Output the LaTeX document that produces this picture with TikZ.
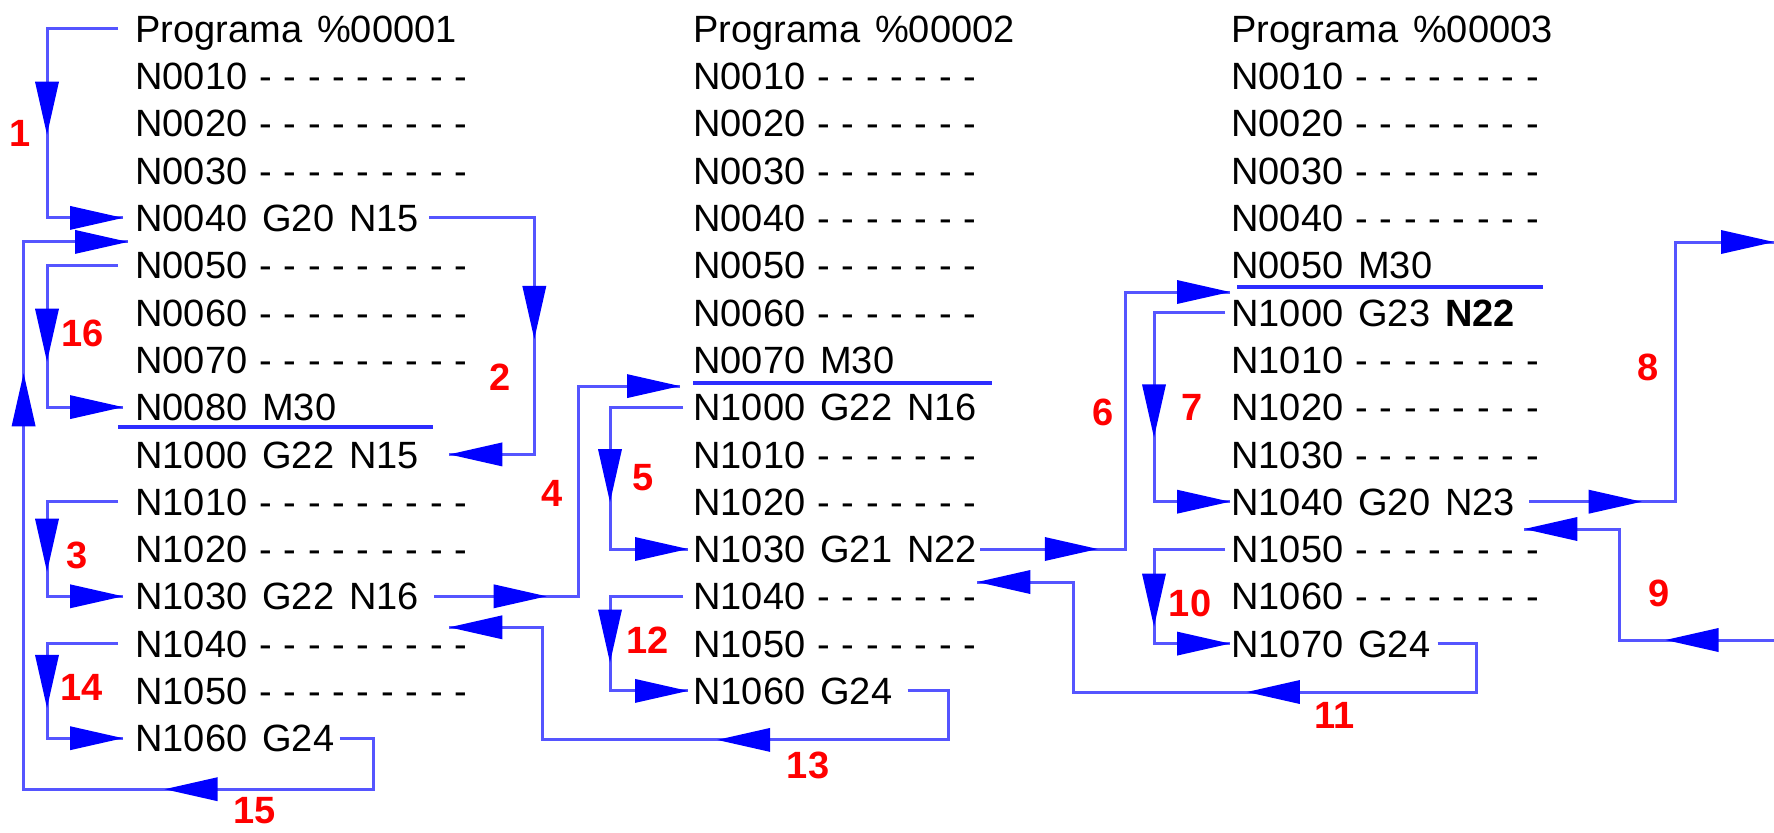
\documentclass[tikz,border=0pt]{standalone}
\usepackage{fontspec}
\setmainfont{Liberation Sans}
\setsansfont{Liberation Sans}
\definecolor{linkblue}{RGB}{85,85,255}
\definecolor{headblue}{RGB}{0,0,255}
\definecolor{ulblue}{RGB}{45,45,255}
\definecolor{lblred}{RGB}{255,0,0}
\tikzset{
  row/.style={anchor=west, inner sep=0pt, text height=13.6pt, text depth=0pt,
    font={\fontsize{19}{23}\selectfont\spaceskip=7.5pt\relax}},
  dashrow/.style={row, font={\fontsize{19}{23}\selectfont\spaceskip=5.9pt\relax}},
  link/.style={draw=linkblue, line width=1.5pt},
  uline/.style={draw=ulblue, line width=2pt},
  lbl/.style={text=lblred, inner sep=0pt, font={\fontsize{19}{23}\selectfont\bfseries}},
  ah/.pic={\fill[headblue] (0,0) -- (-26.5pt,6pt) -- (-26.5pt,-6pt) -- cycle;},
  hd/.style={pos=#1, sloped, allow upside down},
}
\begin{document}
\begin{tikzpicture}[x=0.5pt,y=-0.5pt]
\fill[white] (0,0) rectangle (1774,832);
\useasboundingbox (0,0) rectangle (1774,832);

% ---------- Programa %00001 ----------
\node[row]     (p1r0)  at (135,28.7)  {Programa \%00001};
\node[dashrow] (p1r1)  at (135,76.0)  {N0010 - - - - - - - - -};
\node[dashrow] (p1r2)  at (135,123.3) {N0020 - - - - - - - - -};
\node[dashrow] (p1r3)  at (135,170.6) {N0030 - - - - - - - - -};
\node[row]     (p1r4)  at (135,217.9) {N0040 G20 N15};
\node[dashrow] (p1r5)  at (135,265.2) {N0050 - - - - - - - - -};
\node[dashrow] (p1r6)  at (135,312.5) {N0060 - - - - - - - - -};
\node[dashrow] (p1r7)  at (135,359.8) {N0070 - - - - - - - - -};
\node[row]     (p1r8)  at (135,407.1) {N0080 M30};
\node[row]     (p1r9)  at (135,454.4) {N1000 G22 N15};
\node[dashrow] (p1r10) at (135,501.7) {N1010 - - - - - - - - -};
\node[dashrow] (p1r11) at (135,549.0) {N1020 - - - - - - - - -};
\node[row]     (p1r12) at (135,596.3) {N1030 G22 N16};
\node[dashrow] (p1r13) at (135,643.6) {N1040 - - - - - - - - -};
\node[dashrow] (p1r14) at (135,690.9) {N1050 - - - - - - - - -};
\node[row]     (p1r15) at (135,738.2) {N1060 G24};

% ---------- Programa %00002 ----------
\node[row]     (p2r0)  at (693,28.7)  {Programa \%00002};
\node[dashrow] (p2r1)  at (693,76.0)  {N0010 - - - - - - -};
\node[dashrow] (p2r2)  at (693,123.3) {N0020 - - - - - - -};
\node[dashrow] (p2r3)  at (693,170.6) {N0030 - - - - - - -};
\node[dashrow] (p2r4)  at (693,217.9) {N0040 - - - - - - -};
\node[dashrow] (p2r5)  at (693,265.2) {N0050 - - - - - - -};
\node[dashrow] (p2r6)  at (693,312.5) {N0060 - - - - - - -};
\node[row]     (p2r7)  at (693,359.8) {N0070 M30};
\node[row]     (p2r8)  at (693,407.1) {N1000 G22 N16};
\node[dashrow] (p2r9)  at (693,454.4) {N1010 - - - - - - -};
\node[dashrow] (p2r10) at (693,501.7) {N1020 - - - - - - -};
\node[row]     (p2r11) at (693,549.0) {N1030 G21 N22};
\node[dashrow] (p2r12) at (693,596.3) {N1040 - - - - - - -};
\node[dashrow] (p2r13) at (693,643.6) {N1050 - - - - - - -};
\node[row]     (p2r14) at (693,690.9) {N1060 G24};

% ---------- Programa %00003 ----------
\node[row]     (p3r0)  at (1231,28.7)  {Programa \%00003};
\node[dashrow] (p3r1)  at (1231,76.0)  {N0010 - - - - - - - -};
\node[dashrow] (p3r2)  at (1231,123.3) {N0020 - - - - - - - -};
\node[dashrow] (p3r3)  at (1231,170.6) {N0030 - - - - - - - -};
\node[dashrow] (p3r4)  at (1231,217.9) {N0040 - - - - - - - -};
\node[row]     (p3r5)  at (1231,265.2) {N0050 M30};
\node[row]     (p3r6)  at (1231,312.5) {N1000 G23 \textbf{N22}};
\node[dashrow] (p3r7)  at (1231,359.8) {N1010 - - - - - - - -};
\node[dashrow] (p3r8)  at (1231,407.1) {N1020 - - - - - - - -};
\node[dashrow] (p3r9)  at (1231,454.4) {N1030 - - - - - - - -};
\node[row]     (p3r10) at (1231,501.7) {N1040 G20 N23};
\node[dashrow] (p3r11) at (1231,549.0) {N1050 - - - - - - - -};
\node[dashrow] (p3r12) at (1231,596.3) {N1060 - - - - - - - -};
\node[row]     (p3r13) at (1231,643.6) {N1070 G24};

% free ends at the right border
\coordinate (out8) at (1774,242);
\coordinate (in9)  at (1774,640);

% ---------- underlines ----------
\draw[uline] ([xshift=-8.5pt,yshift=-10pt]p1r8.west) -- ++(315,0);
\draw[uline] ([yshift=-11.6pt]p2r7.west) -- ++(299,0);
\draw[uline] ([xshift=3pt,yshift=-10.9pt]p3r5.west) -- ++(306,0);

% ---------- connectors ----------
% 1
\draw[link] ([xshift=-8.5pt]p1r0.west) -- ++(-71,0) |- ([xshift=-6pt]p1r4.west) pic[hd=0.28]{ah} pic[hd=1]{ah};
% 16
\draw[link] ([xshift=-8.5pt]p1r5.west) -- ++(-71,0) |- ([xshift=-6pt]p1r8.west) pic[hd=0.34]{ah} pic[hd=1]{ah};
% 3
\draw[link] ([xshift=-8.5pt]p1r10.west) -- ++(-71,0) |- ([xshift=-6pt]p1r12.west) pic[hd=0.37]{ah} pic[hd=1]{ah};
% 14
\draw[link] ([xshift=-8.5pt]p1r13.west) -- ++(-71,0) |- ([xshift=-6pt]p1r15.west) pic[hd=0.34]{ah} pic[hd=1]{ah};
% 2
\draw[link] ([xshift=5pt]p1r4.east) -- ++(105,0) |- ([xshift=15pt]p1r9.east) pic[hd=0.256]{ah} pic[hd=1]{ah};
% 4
\draw[link] ([xshift=7.5pt]p1r12.east) -- ++(144,0) pic[hd=0.78]{ah} |- ([xshift=-6.5pt,yshift=10.5pt]p2r8.west) pic[hd=1]{ah};
% 5
\draw[link] ([xshift=-5pt]p2r8.west) -- ++(-73,0) |- ([xshift=-2.5pt]p2r11.west) pic[hd=0.335]{ah} pic[hd=1]{ah};
% 12
\draw[link] ([xshift=-5pt]p2r12.west) -- ++(-73,0) |- ([xshift=-2.5pt]p2r14.west) pic[hd=0.35]{ah} pic[hd=1]{ah};
% 13
\draw[link] ([xshift=7.5pt]p2r14.east) -- ++(41,0) -- ++(0,49) -- ++(-406,0) pic[hd=0.57]{ah} |- ([xshift=15pt,yshift=-15.5pt]p1r12.east) pic[hd=1]{ah};
% 15
\draw[link] ([xshift=2.5pt]p1r15.east) -- ++(34,0) -- ++(0,51) -- ++(-350,0) pic[hd=0.597]{ah} |- ([xshift=-3.5pt,yshift=-12pt]p1r4.west) pic[hd=0.38]{ah} pic[hd=1]{ah};
% 6
\draw[link] ([xshift=1.5pt]p2r11.east) -- ++(145,0) pic[hd=0.81]{ah} |- ([xshift=-0.5pt,yshift=10.25pt]p3r6.west) pic[hd=1]{ah};
% 7
\draw[link] ([xshift=-3pt]p3r6.west) -- ++(-71,0) |- ([xshift=-0.5pt]p3r10.west) pic[hd=0.33]{ah} pic[hd=1]{ah};
% 10
\draw[link] ([xshift=-3pt]p3r11.west) -- ++(-71,0) |- ([xshift=-0.5pt]p3r13.west) pic[hd=0.41]{ah} pic[hd=1]{ah};
% 11
\draw[link] ([xshift=3.5pt]p3r13.east) -- ++(39,0) -- ++(0,48.4) -- ++(-403,0) pic[hd=0.57]{ah} |- ([yshift=-16.5pt]p2r11.east) pic[hd=1]{ah};
% 8
\draw[link] ([xshift=7pt]p3r10.east) -- ++(146,0) pic[hd=0.77]{ah} |- (out8) pic[hd=1]{ah};
% 9
\draw[link] (in9) -- ++(-155,0) pic[hd=0.70]{ah} |- ([xshift=4.5pt,yshift=-13.65pt]p3r10.east) pic[hd=1]{ah};

% ---------- labels ----------
\node[lbl] (l1)  at (20,133)   {1};
\node[lbl] (l2)  at (500,377)  {2};
\node[lbl] (l3)  at (77,555)   {3};
\node[lbl] (l4)  at (552,493)  {4};
\node[lbl] (l5)  at (643,478)  {5};
\node[lbl] (l6)  at (1103,412) {6};
\node[lbl] (l7)  at (1192,407) {7};
\node[lbl] (l8)  at (1648,367) {8};
\node[lbl] (l9)  at (1659,593) {9};
\node[lbl] (l10) at (1190,603) {10};
\node[lbl] (l11) at (1335,715) {11};
\node[lbl] (l12) at (648,640)  {12};
\node[lbl] (l13) at (808,765)  {13};
\node[lbl] (l14) at (82,687)   {14};
\node[lbl] (l15) at (255,811)  {15};
\node[lbl] (l16) at (83,333)   {16};
\end{tikzpicture}
\end{document}
